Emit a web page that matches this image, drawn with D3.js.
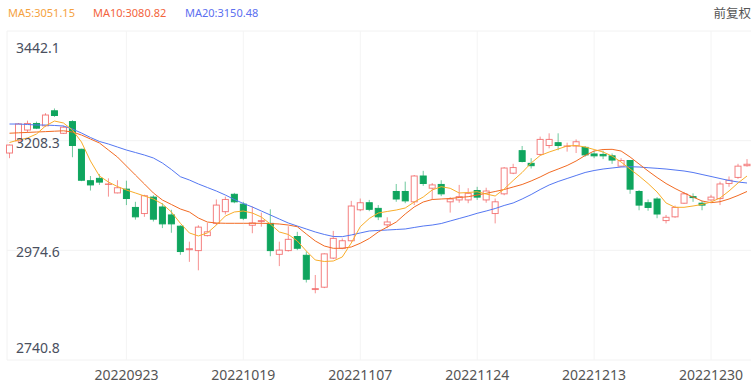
<!DOCTYPE html>
<html>
<head>
<meta charset="utf-8">
<script src="https://cdn.jsdelivr.net/npm/d3@7"></script>
<style>
  body { margin: 0; background: #fff; }
  svg { display: block; font-family: "Noto Sans", sans-serif; }
</style>
</head>
<body>
<script>
const dates = [
  "20220905","20220906","20220907","20220908","20220909","20220913","20220914","20220915","20220916","20220919",
  "20220920","20220921","20220922","20220923","20220926","20220927","20220928","20220929","20220930","20221010",
  "20221011","20221012","20221013","20221014","20221017","20221018","20221019","20221020","20221021","20221024",
  "20221025","20221026","20221027","20221028","20221031","20221101","20221102","20221103","20221104","20221107",
  "20221108","20221109","20221110","20221111","20221114","20221115","20221116","20221117","20221118","20221121",
  "20221122","20221123","20221124","20221125","20221128","20221129","20221130","20221201","20221202","20221205",
  "20221206","20221207","20221208","20221209","20221212","20221213","20221214","20221215","20221216","20221219",
  "20221220","20221221","20221222","20221223","20221226","20221227","20221228","20221229","20221230","20230103",
  "20230104","20230105","20230106"]

const opens = [3182,3208,3231,3245,3240,3272,3224,3249,3190,3123, 3128,3115,3097,3105,3066,3053,3088,3067,3050,3026,
  2976,2974,3006,3032,3057,3094,3073,3028,3036,3032, 2966,2974,3004,2964,2891,2896,2958,2979,2995,3061,
  3076,3064,3029,3100,3100,3078,3133,3107,3115,3078, 3082,3082,3102,3082,3053,3095,3139,3187,3160,3179,
  3198,3204,3196,3197,3194,3180,3179,3176,3154,3166, 3100,3076,3084,3038,3046,3075,3089,3075,3082,3085,
  3117,3130,3155]
const closes = [3199,3244,3245,3235,3263,3262,3237,3198,3124,3114, 3120,3116,3108,3085,3046,3091,3041,3031,3031,2972,
  2978,3024,3014,3071,3083,3078,3043,3033,3038,2974, 2975,2998,2979,2913,2893,2967,3000,2995,3069,3076,
  3062,3046,3035,3084,3080,3133,3117,3114,3095,3084, 3089,3096,3088,3101,3078,3150,3151,3164,3155,3211,
  3211,3198,3197,3206,3178,3176,3176,3167,3166,3105, 3071,3066,3052,3045,3066,3095,3087,3071,3088,3116,
  3124,3154,3158]
const highs = [3200,3246,3251,3249,3267,3277,3240,3252,3191,3133, 3137,3128,3124,3123,3078,3093,3092,3075,3061,3028,
  2993,3028,3033,3083,3089,3097,3078,3068,3055,3062, 2993,3026,3014,2972,2922,2968,3016,3000,3080,3085,
  3082,3071,3045,3116,3121,3135,3144,3118,3124,3088, 3114,3107,3110,3108,3085,3152,3159,3197,3171,3217,
  3224,3224,3204,3211,3197,3187,3187,3181,3171,3167, 3103,3083,3088,3050,3070,3099,3096,3080,3093,3121,
  3132,3159,3169]
const lows = [3171,3206,3225,3233,3238,3259,3223,3173,3122,3102, 3114,3089,3096,3071,3040,3046,3036,3022,3012,2965,
  2950,2932,3004,3028,3051,3075,3039,3011,3025,2962, 2941,2972,2975,2906,2883,2894,2956,2977,2993,3058,
  3058,3039,3022,3078,3075,3071,3112,3083,3090,3055, 3076,3075,3082,3076,3032,3092,3137,3162,3149,3177,
  3192,3188,3185,3182,3174,3171,3169,3159,3153,3095, 3060,3059,3043,3032,3044,3074,3078,3060,3080,3071,
  3110,3127,3153]

const ma5 = [3204.4,3209.8,3214.0,3222.5,3239.6,3250.2,3246.0,3231.1,3205.5,3165.0,
  3133.0,3120.2,3110.6,3103.2,3096.8,3090.4,3084.0,3073.4,3056.3,3032.2,
  3011.6,3005.2,3011.6,3028.5,3047.7,3056.3,3058.4,3054.1,3045.6,3030.7,
  3013.7,3008.4,2994.5,2973.2,2954.0,2950.8,2951.8,2960.4,2990.2,3024.9,
  3042.4,3054.1,3057.4,3060.5,3064.8,3077.6,3088.2,3103.2,3110.2,3106.8,
  3096.8,3097.8,3099.5,3094.6,3090.4,3105.3,3123.4,3140.5,3160.7,3176.7,
  3184.1,3190.5,3196.9,3198.0,3194.8,3189.5,3184.1,3175.6,3162.8,3147.9,
  3133.0,3117.0,3098.9,3075.5,3066.3,3066.3,3069.1,3072.3,3077.6,3086.1,
  3101.0,3118.1,3133.0]
const ma10 = [3224.2,3225.1,3225.9,3226.8,3227.6,3228.5,3229.4,3226.8,3220.4,3211.9,
  3203.4,3188.4,3173.5,3154.3,3135.1,3116.0,3096.8,3081.8,3072.3,3062.7,
  3056.3,3043.5,3034.9,3032.8,3032.2,3032.2,3032.2,3032.2,3032.2,3031.7,
  3030.7,3028.5,3024.9,3009.4,2994.5,2983.8,2978.9,2978.9,2981.7,2989.6,
  2999.8,3013.7,3024.3,3034.9,3052.0,3067.0,3077.6,3082.9,3084.0,3085.0,
  3087.2,3088.9,3092.5,3096.1,3100.0,3104.2,3109.6,3114.9,3122.4,3130.9,
  3140.5,3147.9,3155.4,3165.0,3176.7,3186.3,3189.5,3189.9,3186.3,3173.5,
  3158.6,3143.7,3129.8,3117.0,3106.4,3096.8,3088.2,3079.7,3076.1,3078.2,
  3084.0,3091.5,3100.0]
const ma20 = [3243.8,3243.8,3242.8,3241.7,3241.7,3240.7,3239.6,3233.2,3224.6,3215.1,
  3206.6,3201.2,3194.8,3188.4,3183.1,3177.7,3171.4,3160.7,3146.9,3131.5,
  3124.5,3116.0,3108.5,3101.0,3092.5,3082.9,3074.4,3067.0,3058.4,3049.9,
  3041.3,3032.8,3026.4,3020.1,3013.7,3008.4,3004.1,3003.7,3007.3,3011.6,
  3015.8,3016.9,3017.9,3019.0,3020.1,3023.3,3026.4,3028.5,3031.7,3037.1,
  3042.4,3047.7,3053.5,3058.4,3063.7,3070.2,3075.5,3084.0,3093.5,3104.2,
  3113.8,3121.3,3127.7,3134.1,3140.5,3144.7,3147.9,3150.1,3152.2,3152.8,
  3152.2,3150.7,3149.4,3147.9,3145.8,3143.7,3140.5,3136.2,3132.0,3127.7,
  3123.4,3120.2,3118.1]

const yTicks = [2740.8, 2974.6, 3208.3, 3442.1]
const tickDates = ["20220923","20221019","20221107","20221124","20221213","20221230"]
const legendItems = [
  {label: "MA5:3051.15", color: "#f5a23e", x: 8},
  {label: "MA10:3080.82", color: "#f3643c", x: 93},
  {label: "MA20:3150.48", color: "#5c6ff0", x: 185}
]

const W = 756, H = 387
const plot = {l: 7, r: 751, t: 31, b: 360}
const up = "#f04a4a", down = "#0fa55e"

const svg = d3.select("body").append("svg")
  .attr("width", W)
  .attr("height", H)

const x = d3.scaleBand()
  .domain(dates)
  .range([5, 751.5])
const y = d3.scaleLinear()
  .domain([yTicks[0], yTicks[yTicks.length - 1]])
  .range([plot.b, plot.t])
const cx = d => x(d) + x.bandwidth() / 2

// grid + frame
const grid = svg.append("g")
grid.selectAll("line.h")
  .data(yTicks)
  .enter().append("line")
  .attr("x1", plot.l).attr("x2", plot.r)
  .attr("y1", d => y(d)).attr("y2", d => y(d))
  .attr("stroke", "#f2f2f2")
grid.selectAll("line.v")
  .data(tickDates)
  .enter().append("line")
  .attr("x1", d => cx(d)).attr("x2", d => cx(d))
  .attr("y1", plot.t).attr("y2", plot.b)
  .attr("stroke", "#f4f4f4")
grid.append("line")
  .attr("x1", plot.l).attr("x2", plot.l)
  .attr("y1", plot.t).attr("y2", plot.b)
  .attr("stroke", "#f2f2f2")

// candles
const candles = dates.map((d, i) => ({d, o: opens[i], c: closes[i], h: highs[i], l: lows[i]}))
const bw = 6
const g = svg.append("g")
g.selectAll("line.wick")
  .data(candles)
  .enter().append("line")
  .attr("x1", d => cx(d.d)).attr("x2", d => cx(d.d))
  .attr("y1", d => y(d.h)).attr("y2", d => y(d.l))
  .attr("stroke", d => d.c >= d.o ? up : down)
  .attr("stroke-opacity", 0.6)
g.selectAll("rect")
  .data(candles)
  .enter().append("rect")
  .attr("x", d => cx(d.d) - bw / 2)
  .attr("width", bw)
  .attr("y", d => y(Math.max(d.o, d.c)))
  .attr("height", d => Math.max(0.5, Math.abs(y(d.o) - y(d.c))))
  .attr("fill", d => d.c >= d.o ? "#fff" : down)
  .attr("stroke", d => d.c >= d.o ? up : down)
  .attr("stroke-opacity", d => d.c >= d.o ? 0.7 : 1)

// moving averages
const line = d3.line()
  .x((v, i) => cx(dates[i]))
  .y(v => y(v))
;[[ma20, "#5477f2"], [ma10, "#f26a22"], [ma5, "#f9ad2a"]].forEach(([s, col]) => {
  svg.append("path")
    .attr("d", line(s))
    .attr("fill", "none")
    .attr("stroke", col)
    .attr("stroke-width", 1)
})

// y labels
svg.append("g").selectAll("text")
  .data(yTicks)
  .enter().append("text")
  .attr("x", 16)
  .attr("y", (d, i) => y(d) + (i === 0 ? -13 : i === yTicks.length - 1 ? 16 : 1.5))
  .attr("dominant-baseline", "central")
  .attr("font-size", 14)
  .attr("fill", "#4a4f5e")
  .text(d => d.toFixed(1))

// x labels
svg.append("g").selectAll("text")
  .data(tickDates)
  .enter().append("text")
  .attr("x", d => cx(d))
  .attr("y", 374)
  .attr("text-anchor", "middle")
  .attr("dominant-baseline", "central")
  .attr("font-size", 14)
  .attr("fill", "#555")
  .text(d => d)

// header
svg.append("g").selectAll("text")
  .data(legendItems)
  .enter().append("text")
  .attr("x", d => d.x)
  .attr("y", 12)
  .attr("dominant-baseline", "central")
  .attr("font-size", 11)
  .attr("fill", d => d.color)
  .text(d => d.label)

svg.append("text")
  .attr("x", 751)
  .attr("y", 12)
  .attr("text-anchor", "end")
  .attr("dominant-baseline", "central")
  .attr("font-family", "'Noto Sans CJK SC', sans-serif")
  .attr("font-size", 12.5)
  .attr("fill", "#555")
  .text("前复权")
</script>
</body>
</html>
